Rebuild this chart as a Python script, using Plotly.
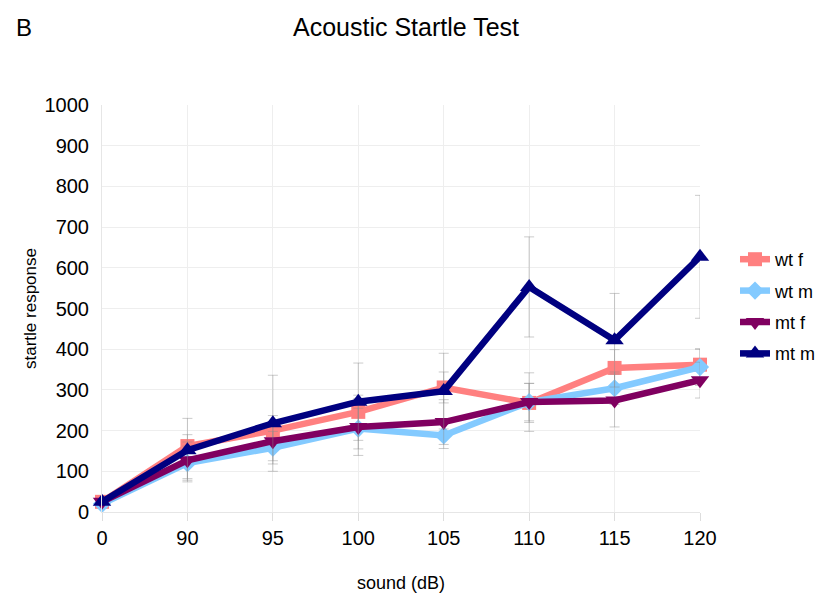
import plotly.graph_objects as go

categories = ["0", "90", "95", "100", "105", "110", "115", "120"]

wt_f = [25, 162, 200, 246, 306, 268, 354, 362]
wt_m = [20, 120, 158, 205, 188, 270, 304, 356]
mt_f = [25, 127, 174, 209, 221, 270, 274, 324]
mt_m = [25, 152, 218, 271, 297, 553, 422, 627]

wt_f_err = [8, 28, 37, 41, 38, 48, 45, 38]
wt_m_err = [6, 42, 40, 50, 32, 46, 40, 45]
mt_f_err = [6, 45, 48, 70, 55, 72, 65, 44]
mt_m_err = [6, 78, 118, 95, 93, 123, 115, 151]

series = [
    ("wt f", wt_f, wt_f_err, "#FF8080", "square", 14),
    ("wt m", wt_m, wt_m_err, "#83CAFF", "diamond", 14),
    ("mt f", mt_f, mt_f_err, "#800060", "triangle-down", 16),
    ("mt m", mt_m, mt_m_err, "#000080", "triangle-up", 16),
]

fig = go.Figure()
for name, vals, err, color, sym, size in series:
    fig.add_trace(go.Scatter(
        x=categories, y=vals, name=name, mode="lines+markers",
        legendgroup=name,
        line=dict(color=color, width=6.5),
        marker=dict(symbol=sym, size=size, color=color),
        error_y=dict(type="data", array=err, visible=True,
                     color="rgba(140,140,140,0.45)", thickness=1, width=5),
        cliponaxis=False,
    ))

# plot area in figure pixels (page adds an 8px body margin)
L, T, R, B = 94, 97, 692, 504
W, H = R - L, B - T

fig.update_layout(
    width=827, height=602,
    margin=dict(l=L, r=827 - R, t=T, b=602 - B, autoexpand=False),
    paper_bgcolor="white", plot_bgcolor="white",
    font=dict(family="Liberation Sans, Arial, sans-serif", color="black"),
    title=dict(text="Acoustic Startle Test", x=398 / 827, xanchor="center",
               xref="container", yref="container",
               y=1 - 19 / 602, yanchor="middle", font=dict(size=25)),
    showlegend=True,
    legend=dict(xref="container", yref="container",
                x=727 / 827, y=1 - 233 / 602, xanchor="left", yanchor="top",
                font=dict(size=18), tracegroupgap=5, itemwidth=30,
                bgcolor="rgba(0,0,0,0)"),
    annotations=[dict(text="B", xref="paper", yref="paper",
                      x=(6 - L) / W, y=(B - 20) / H,
                      xanchor="left", yanchor="middle",
                      showarrow=False, font=dict(size=24))],
)

fig.update_xaxes(
    type="category", range=[0, 7], automargin=False,
    showgrid=True, gridcolor="#eeeeee", gridwidth=1,
    ticks="outside", ticklen=8, tickcolor="#dddddd",
    tickfont=dict(size=20), showline=True, linecolor="#e6e6e6",
    title=dict(text="sound (dB)", font=dict(size=18), standoff=28),
    zeroline=False,
)
fig.update_yaxes(
    range=[0, 1000], dtick=100, automargin=False,
    showgrid=True, gridcolor="#eeeeee", gridwidth=1,
    ticks="", tickfont=dict(size=20), ticklabelstandoff=8,
    showline=True, linecolor="#e6e6e6",
    title=dict(text="startle response", font=dict(size=17), standoff=3),
    zeroline=False,
)

fig.write_html("out.html")
